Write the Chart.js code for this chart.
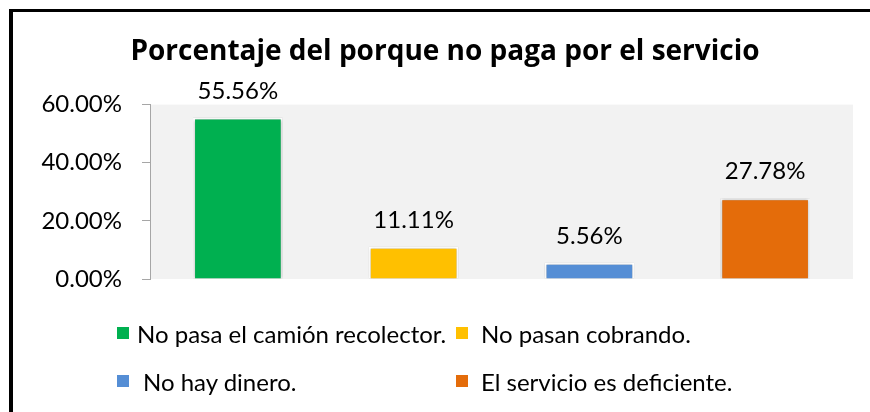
<!DOCTYPE html>
<html>
<head>
<meta charset="utf-8">
<script src="https://cdn.jsdelivr.net/npm/chart.js@4/dist/chart.umd.min.js"></script>
<style>
  html, body { margin: 0; padding: 0; background: #fff; overflow: hidden; width: 870px; height: 412px; }
  #wrap { position: relative; width: 870px; height: 412px; overflow: hidden; }
  #frameL { position: absolute; left: 9px; top: 9px; width: 4px; height: 403px; background: #000; }
  #frameT { position: absolute; left: 9px; top: 9px; width: 861px; height: 3px; background: #000; }
  canvas { position: absolute; left: 0; top: 0; }
  .leg { position: absolute; font-family: Lato, "Open Sans", sans-serif; font-size: 24px; color: #000;
         display: flex; align-items: center; white-space: nowrap; height: 30px; }
  .leg .sw { width: 12px; height: 12px; margin-right: 8px; flex: none; }
</style>
</head>
<body>
<div id="wrap">
  <canvas id="c" width="870" height="412"></canvas>
  <div id="frameL"></div>
  <div id="frameT"></div>
</div>
<script>
const titleText = "Porcentaje del porque no paga por el servicio";
const categories = ["No pasa el camión recolector.", "No pasan cobrando.", "No hay dinero.", "El servicio es deficiente."];
const values = [55.56, 11.11, 5.56, 27.78];
const colors = ["#00B050", "#FFC000", "#558ED5", "#E46C0A"];
const yTicks = [0, 20, 40, 60];

// HTML legend (2 columns x 2 rows)
const legPos = [[117, 318], [456, 318], [117, 366], [456, 366]];
const wrap = document.getElementById('wrap');
categories.forEach((name, i) => {
  const d = document.createElement('div');
  d.className = 'leg';
  d.style.left = legPos[i][0] + 'px';
  d.style.top = legPos[i][1] + 'px';
  const sw = document.createElement('span');
  sw.className = 'sw';
  sw.style.background = colors[i];
  if (i === 2) sw.style.marginRight = '14px';
  if (i % 2 === 1) sw.style.marginRight = '13px';
  const t = document.createElement('span');
  t.textContent = name;
  d.appendChild(sw); d.appendChild(t);
  wrap.appendChild(d);
});

const plotBg = {
  id: 'plotBg',
  beforeDraw(chart) {
    const { ctx, chartArea: a } = chart;
    ctx.save();
    ctx.fillStyle = '#F2F2F2';
    ctx.fillRect(a.left, a.top, a.right - a.left, a.bottom - a.top);
    ctx.restore();
  }
};
const barShadow = {
  id: 'barShadow',
  beforeDatasetDraw(chart) {
    const ctx = chart.ctx;
    ctx.save();
    ctx.shadowColor = 'rgba(0,0,0,0.35)';
    ctx.shadowBlur = 3;
    ctx.shadowOffsetX = 0;
    ctx.shadowOffsetY = 0;
  },
  afterDatasetDraw(chart) { chart.ctx.restore(); }
};
const dataLabels = {
  id: 'dataLabels',
  afterDatasetsDraw(chart) {
    const ctx = chart.ctx;
    const meta = chart.getDatasetMeta(0);
    ctx.save();
    ctx.font = '24px Lato, "Open Sans", sans-serif';
    ctx.fillStyle = '#000';
    ctx.textAlign = 'center';
    ctx.textBaseline = 'alphabetic';
    meta.data.forEach((bar, i) => {
      ctx.fillText(values[i].toFixed(2) + '%', bar.x, bar.y - 19);
    });
    ctx.restore();
  }
};

new Chart(document.getElementById('c'), {
  type: 'bar',
  data: {
    labels: categories,
    datasets: [{
      data: values,
      backgroundColor: colors,
      borderColor: '#FFFFFF',
      borderWidth: 2,
      barPercentage: 1,
      categoryPercentage: 0.51
    }]
  },
  options: {
    responsive: false,
    animation: false,
    events: [],
    layout: { padding: { left: 37, right: 17, top: 0, bottom: 133 } },
    plugins: {
      legend: { display: false },
      tooltip: { enabled: false },
      title: {
        display: true,
        text: titleText,
        color: '#000',
        font: { family: '"Open Sans", Lato, sans-serif', size: 28, weight: 'bold', lineHeight: 1.2 },
        padding: { top: 35, bottom: 36 }
      }
    },
    scales: {
      x: { display: false },
      y: {
        min: 0, max: 60,
        afterFit(s) { s.width = 113; },
        afterBuildTicks(s) { s.ticks = yTicks.map(v => ({ value: v })); },
        border: { display: true, color: '#A6A6A6', width: 1 },
        grid: { drawOnChartArea: false, drawTicks: true, tickLength: 8, color: '#A6A6A6' },
        ticks: {
          color: '#000',
          padding: 20,
          font: { family: 'Lato, "Open Sans", sans-serif', size: 24 },
          callback: v => v.toFixed(2) + '%'
        }
      }
    }
  },
  plugins: [plotBg, barShadow, dataLabels]
});
</script>
</body>
</html>
